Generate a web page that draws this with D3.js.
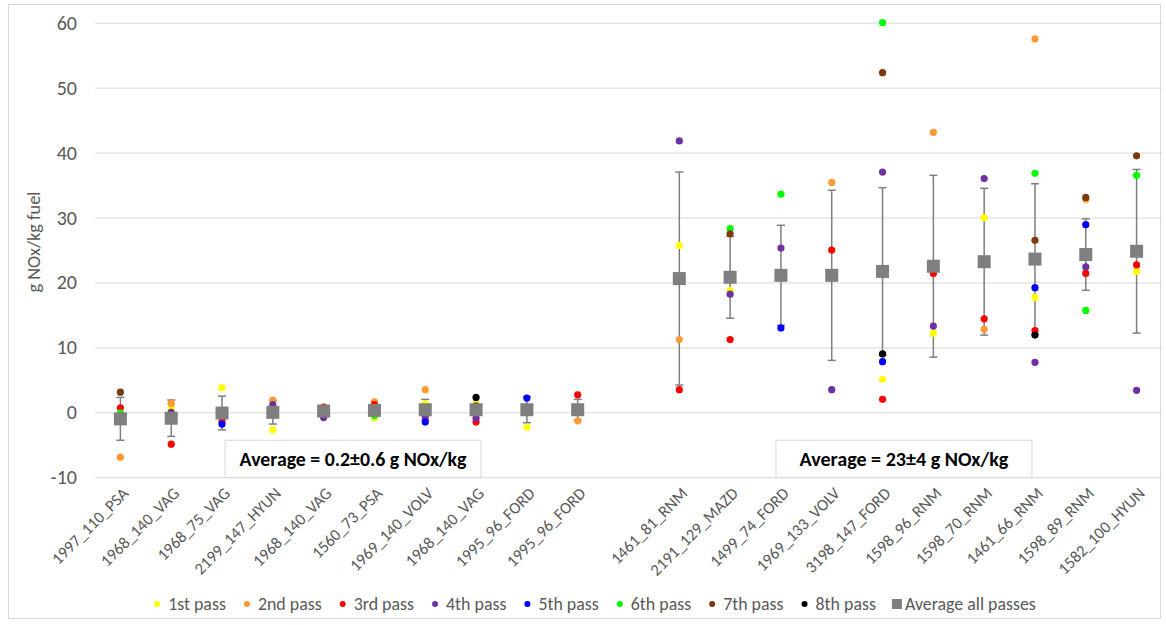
<!DOCTYPE html>
<html>
<head>
<meta charset="utf-8">
<script src="https://cdn.jsdelivr.net/npm/d3@7"></script>
<style>
  body { margin: 0; background: #fff; }
  svg text { font-family: Carlito, Calibri, "Open Sans", "Noto Sans", sans-serif; }
</style>
</head>
<body>
<svg id="svg" width="1166" height="625"></svg>
<script>
// categories (index 10 is the empty slot between the two groups)
let categories = ["1997_110_PSA", "1968_140_VAG", "1968_75_VAG", "2199_147_HYUN", "1968_140_VAG",
  "1560_73_PSA", "1969_140_VOLV", "1968_140_VAG", "1995_96_FORD", "1995_96_FORD", "",
  "1461_81_RNM", "2191_129_MAZD", "1499_74_FORD", "1969_133_VOLV", "3198_147_FORD",
  "1598_96_RNM", "1598_70_RNM", "1461_66_RNM", "1598_89_RNM", "1582_100_HYUN"];

let passNames = ["1st pass", "2nd pass", "3rd pass", "4th pass", "5th pass", "6th pass", "7th pass", "8th pass"];
let passColors = ["#ffff00", "#ff9933", "#ff0000", "#7030a0", "#0000ff", "#00ff00", "#7b3a0e", "#000000"];

let pass1 = [null, 0.7, 3.8, -2.7, null, -0.8, 1.3, 1.4, -2.3, null, null, 25.7, 18.8, null, null, 5.1, 12.2, 30.0, 17.7, null, 21.7];
let pass2 = [-6.9, 1.4, null, 1.9, 0.6, 1.6, 3.5, null, null, -1.3, null, 11.2, null, null, 35.4, 21.2, 43.1, 12.8, 57.5, 32.8, null];
let pass3 = [0.7, -4.9, -1.4, null, 0.8, 1.2, null, -1.5, null, 2.7, null, 3.5, 11.2, null, 25.0, 2.0, 21.4, 14.4, 12.6, 21.4, 22.7];
let pass4 = [null, 0.0, null, 1.2, -0.8, null, -0.7, -0.9, null, null, null, 41.8, 18.2, 25.3, 3.5, 37.0, 13.3, 36.0, 7.7, 22.4, 3.4];
let pass5 = [null, null, -1.8, null, null, null, -1.5, null, 2.2, null, null, null, null, 13.0, null, 7.8, null, null, 19.2, 28.9, null];
let pass6 = [-0.1, null, null, null, null, -0.5, null, null, null, null, null, null, 28.3, 33.6, null, 60.0, null, null, 36.8, 15.7, 36.5];
let pass7 = [3.1, null, null, null, null, null, null, 1.0, null, null, null, null, 27.5, null, null, 52.3, null, null, 26.5, 33.1, 39.5];
let pass8 = [null, null, null, null, null, null, null, 2.3, null, null, null, null, null, null, null, 9.0, null, null, 11.9, null, null];
let passes = [pass1, pass2, pass3, pass4, pass5, pass6, pass7, pass8];

let averageAll = [-1.0, -0.9, -0.1, 0.0, 0.2, 0.3, 0.4, 0.4, 0.4, 0.4, null, 20.6, 20.8, 21.1, 21.1, 21.7, 22.5, 23.2, 23.6, 24.3, 24.8];
let averageErr = [3.3, 2.8, 2.6, 1.8, 0.5, 0.6, 1.6, 0.8, 2.0, 1.6, null, 16.4, 6.3, 7.7, 13.1, 12.9, 14.0, 11.3, 11.6, 5.5, 12.6];

let yTicks = [-10, 0, 10, 20, 30, 40, 50, 60];
let yTitle = "g NOx/kg fuel";
let boxTexts = ["Average = 0.2±0.6 g NOx/kg", "Average = 23±4 g NOx/kg"];

// scale a text's font so that it spans the wanted length
function fitText(sel, wanted) {
  let size = parseFloat(sel.style("font-size"));
  let len = sel.node().getComputedTextLength();
  if (len > 0) sel.style("font-size", (size * wanted / len) + "px");
  return size * wanted / len;
}

let svg = d3.select("svg");
let margin = {top: 22.7, right: 4, bottom: 147.7, left: 95};
let width = 1166 - margin.left - margin.right;
let height = 625 - margin.top - margin.bottom;

// chart area border
svg.append("rect")
  .attr("x", 8.5).attr("y", 4.5).attr("width", 1152).attr("height", 614)
  .attr("fill", "none").attr("stroke", "#d9d9d9");

let g = svg.append("g").attr("transform", "translate(" + margin.left + "," + margin.top + ")");

let x = d3.scaleBand().domain(d3.range(categories.length)).range([0, width]);
let y = d3.scaleLinear().domain([-10, 60]).range([height, 0]);
let cx = i => x(i) + x.bandwidth() / 2;

// gridlines
g.append("g")
  .call(d3.axisLeft(y).tickValues(yTicks).tickSize(-width).tickFormat(""))
  .call(a => a.select(".domain").remove())
  .selectAll("line").attr("stroke", "#d9d9d9");

// y labels
g.selectAll(".ylab")
  .data(yTicks)
  .enter().append("text")
    .attr("x", -18)
    .attr("y", d => y(d))
    .attr("dy", "0.35em")
    .attr("text-anchor", "end")
    .attr("fill", "#595959")
    .style("font-size", "20px")
    .text(d => d);

let title = g.append("text")
  .attr("transform", "translate(-55," + (y(25) - 8) + ") rotate(-90)")
  .attr("text-anchor", "middle")
  .attr("fill", "#595959")
  .style("font-size", "18px")
  .text(yTitle);
fitText(title, 101);

// x labels
g.selectAll(".xlab")
  .data(categories.map((c, i) => ({c, i})).filter(d => d.c))
  .enter().append("text")
    .attr("transform", d => "translate(" + (cx(d.i) + 5) + "," + (height + 13) + ") rotate(-45)")
    .attr("text-anchor", "end")
    .attr("dy", "0.35em")
    .attr("fill", "#595959")
    .style("font-size", "16.5px")
    .text(d => d.c);

// annotation boxes
let boxes = [{cx: x(5) + 4, text: boxTexts[0], len: 227}, {cx: x(16) - 4, text: boxTexts[1], len: 209}];
boxes.forEach(b => {
  g.append("rect")
    .attr("x", b.cx - 128).attr("y", height - 37)
    .attr("width", 256).attr("height", 37)
    .attr("fill", "#fff").attr("stroke", "#d9d9d9");
  let t = g.append("text")
    .attr("x", b.cx).attr("y", height - 18)
    .attr("dy", "0.35em")
    .attr("text-anchor", "middle")
    .attr("fill", "#000")
    .style("font-size", "18px")
    .style("font-weight", "bold")
    .text(b.text);
  fitText(t, b.len);
});

// error bars
let avgData = averageAll.map((v, i) => ({i, v, e: averageErr[i]})).filter(d => d.v != null);
let eb = g.append("g").attr("stroke", "#7f7f7f").attr("stroke-width", 1.5);
avgData.forEach(d => {
  eb.append("line").attr("x1", cx(d.i)).attr("x2", cx(d.i)).attr("y1", y(d.v - d.e)).attr("y2", y(d.v + d.e));
  [d.v - d.e, d.v + d.e].forEach(t => {
    eb.append("line").attr("x1", cx(d.i) - 4).attr("x2", cx(d.i) + 4).attr("y1", y(t)).attr("y2", y(t));
  });
});

// pass points
passes.forEach((p, k) => {
  g.append("g").selectAll("circle")
    .data(p.map((v, i) => ({i, v})).filter(d => d.v != null))
    .enter().append("circle")
      .attr("cx", d => cx(d.i))
      .attr("cy", d => y(d.v))
      .attr("r", 3.6)
      .attr("fill", passColors[k]);
});

// averages
g.append("g").selectAll("rect")
  .data(avgData)
  .enter().append("rect")
    .attr("x", d => cx(d.i) - 6.5)
    .attr("y", d => y(d.v) - 6.5)
    .attr("width", 13).attr("height", 13)
    .attr("fill", "#7f7f7f");

// legend: font sized so "Average all passes" is ~131px like the reference
let probe = svg.append("text").style("font-size", "17px").text("Average all passes");
let legendSize = fitText(probe, 131);
probe.remove();

let gap = 21;
let legend = svg.append("g").attr("transform", "translate(0,604)");
let items = passNames.map((n, k) => ({n, c: passColors[k], sq: false}));
items.push({n: "Average all passes", c: "#7f7f7f", sq: true});
let pos = 0;
items.forEach(it => {
  let ig = legend.append("g").attr("transform", "translate(" + pos + ",0)");
  if (it.sq) {
    ig.append("rect").attr("x", -5).attr("y", -5).attr("width", 10).attr("height", 10).attr("fill", it.c);
  } else {
    ig.append("circle").attr("r", 3).attr("fill", it.c);
  }
  let t = ig.append("text")
    .attr("x", it.sq ? 8 : 11)
    .attr("dy", "0.35em")
    .attr("fill", "#595959")
    .style("font-size", legendSize + "px")
    .text(it.n);
  pos += (it.sq ? 8 : 11) + t.node().getComputedTextLength() + gap;
});
let total = pos - gap;
legend.attr("transform", "translate(" + (153 + (1040 - 153 - total) / 2) + ",604)");
</script>
</body>
</html>
